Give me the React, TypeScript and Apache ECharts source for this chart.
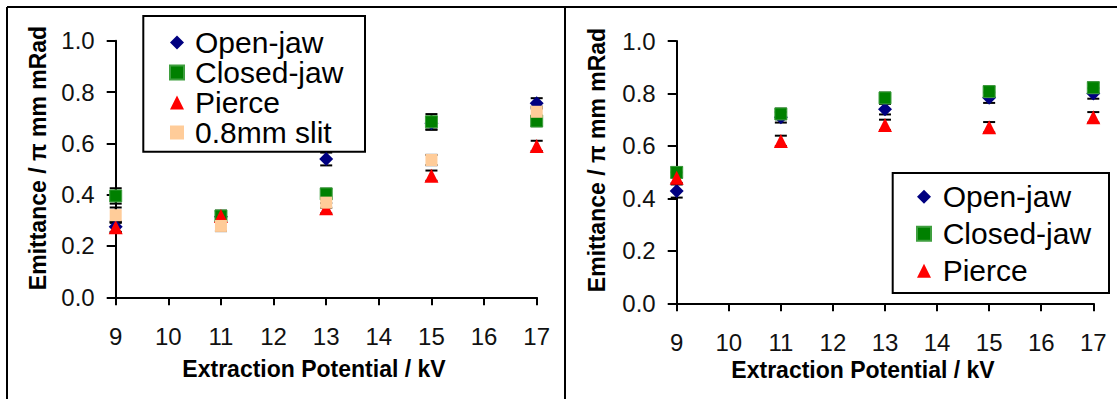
import React, { useEffect, useRef } from "react";
import * as echarts from "echarts";

const kv = [9, 11, 13, 15, 17];
const yTicks = [0, 0.2, 0.4, 0.6, 0.8, 1.0];

const seriesNamesLeft = ["Open-jaw", "Closed-jaw", "Pierce", "0.8mm slit"];
const seriesNamesRight = ["Open-jaw", "Closed-jaw", "Pierce"];

// Left panel
const openL = [0.275, 0.314, 0.539, 0.678, 0.756];
const closedL = [0.395, 0.317, 0.403, 0.684, 0.687];
const pierceL = [0.273, 0.317, 0.347, 0.474, 0.59];
const slitL = [0.32, 0.278, 0.369, 0.535, 0.723];
const errOpenL = [0.02, 0.02, 0.025, 0.025, 0.02];
const errClosedL = [0.03, 0.02, 0.02, 0.03, 0.02];
const errPierceL = [0.02, 0.02, 0.02, 0.02, 0.02];
const errSlitL = [0.03, 0.02, 0.02, 0.02, 0.02];

// Right panel
const openR = [0.428, 0.709, 0.74, 0.784, 0.8];
const closedR = [0.499, 0.722, 0.783, 0.807, 0.822];
const pierceR = [0.479, 0.619, 0.68, 0.671, 0.709];
const errOpenR = [0.025, 0.02, 0.02, 0.02, 0.02];
const errClosedR = [0.02, 0.02, 0.02, 0.02, 0.02];
const errPierceR = [0.02, 0.02, 0.02, 0.02, 0.02];

const FONT = '"Liberation Sans", Arial, sans-serif';

const styles: Record<string, any> = {
  "Open-jaw": { symbol: "diamond", symbolSize: 14, color: "#000080" },
  "Closed-jaw": { symbol: "rect", symbolSize: 12, color: "#008000", border: "#3f9f3f" },
  Pierce: { symbol: "triangle", symbolSize: 14, color: "#ff0000" },
  "0.8mm slit": { symbol: "rect", symbolSize: 12, color: "#ffcc99" },
};

function scatter(name: string, vals: number[], idx: number) {
  const s = styles[name];
  return {
    type: "scatter",
    name,
    xAxisIndex: idx,
    yAxisIndex: idx,
    symbol: s.symbol,
    symbolSize: s.symbolSize,
    itemStyle: {
      color: s.color,
      borderColor: s.border || s.color,
      borderWidth: s.border ? 1 : 0,
      opacity: 1,
    },
    z: 3,
    data: kv.map((x, i) => [x, vals[i]]),
  };
}

function errBars(vals: number[], errs: number[], idx: number) {
  return {
    type: "custom",
    xAxisIndex: idx,
    yAxisIndex: idx,
    z: 2,
    silent: true,
    encode: { x: 0, y: 1 },
    data: kv.map((x, i) => [x, vals[i], errs[i]]),
    renderItem: (params: any, api: any) => {
      const x = api.value(0);
      const y = api.value(1);
      const e = api.value(2);
      const top = api.coord([x, y + e]);
      const bot = api.coord([x, y - e]);
      const h = 6;
      const st = { stroke: "#000", lineWidth: 2 };
      return {
        type: "group",
        children: [
          { type: "line", shape: { x1: top[0], y1: top[1], x2: bot[0], y2: bot[1] }, style: st },
          { type: "line", shape: { x1: top[0] - h, y1: top[1], x2: top[0] + h, y2: top[1] }, style: st },
          { type: "line", shape: { x1: bot[0] - h, y1: bot[1], x2: bot[0] + h, y2: bot[1] }, style: st },
        ],
      };
    },
  };
}

function xAxis(idx: number) {
  return {
    type: "value",
    gridIndex: idx,
    min: 9,
    max: 17,
    interval: 1,
    axisLine: { show: true, onZero: false, lineStyle: { color: "#000", width: 2 } },
    axisTick: { show: true, inside: false, length: 8, lineStyle: { color: "#000", width: 2 } },
    splitLine: { show: false },
    axisLabel: { fontSize: 24, fontFamily: FONT, color: "#111", margin: 27 },
  };
}

function yAxis(idx: number) {
  return {
    type: "value",
    gridIndex: idx,
    min: yTicks[0],
    max: yTicks[yTicks.length - 1],
    interval: 0.2,
    axisLine: { show: true, onZero: false, lineStyle: { color: "#000", width: 2 } },
    axisTick: { show: true, inside: false, length: 9, lineStyle: { color: "#000", width: 2 } },
    splitLine: { show: false },
    axisLabel: {
      fontSize: 24,
      fontFamily: FONT,
      color: "#111",
      margin: 21,
      formatter: (v: number) => v.toFixed(1),
    },
  };
}

function titleText(text: string, x: number, y: number, rot = 0) {
  return {
    type: "text",
    x,
    y,
    rotation: rot,
    z: 10,
    style: {
      text,
      font: `bold 23px ${FONT}`,
      fill: "#000",
      align: "center",
      verticalAlign: "middle",
      textAlign: "center",
      textVerticalAlign: "middle",
    },
  };
}

export default function App() {
  const ref = useRef<HTMLDivElement>(null);
  useEffect(() => {
    if (!ref.current) return;
    const chart = echarts.init(ref.current, undefined, { renderer: "svg" });
    const option: any = {
      animation: false,
      backgroundColor: "#fff",
      grid: [
        { left: 115.7, width: 421, top: 40.7, height: 256.6 },
        { left: 676.7, width: 416.6, top: 41, height: 262.3 },
      ],
      xAxis: [xAxis(0), xAxis(1)],
      yAxis: [yAxis(0), yAxis(1)],
      legend: [
        {
          data: seriesNamesLeft,
          orient: "vertical",
          left: 169,
          top: 27.5,
          padding: 0,
          itemGap: 0,
          itemWidth: 14,
          itemHeight: 14,
          selectedMode: false,
          z: 6,
          textStyle: { fontSize: 30, fontFamily: FONT, color: "#000", lineHeight: 28.5, padding: [0, 0, 0, 6] },
        },
        {
          data: seriesNamesRight,
          orient: "vertical",
          left: 916,
          top: 178.2,
          padding: 0,
          itemGap: 0,
          itemWidth: 14,
          itemHeight: 14,
          selectedMode: false,
          z: 6,
          textStyle: { fontSize: 30, fontFamily: FONT, color: "#000", lineHeight: 37, padding: [0, 0, 0, 6.7] },
        },
      ],
      graphic: [
        { type: "line", shape: { x1: 7, y1: 7, x2: 1117, y2: 7 }, style: { stroke: "#000", lineWidth: 2 } },
        { type: "line", shape: { x1: 7, y1: 7, x2: 7, y2: 399 }, style: { stroke: "#000", lineWidth: 2 } },
        { type: "line", shape: { x1: 565, y1: 7, x2: 565, y2: 399 }, style: { stroke: "#000", lineWidth: 2 } },
        { type: "rect", z: 1, shape: { x: 143.3, y: 16, width: 221.7, height: 135.7 }, style: { fill: "#fff", stroke: "#000", lineWidth: 2 } },
        { type: "rect", z: 1, shape: { x: 892.7, y: 173, width: 216.3, height: 120 }, style: { fill: "#fff", stroke: "#000", lineWidth: 2 } },
        titleText("Extraction Potential / kV", 314, 369),
        titleText("Extraction Potential / kV", 863, 370),
        titleText("Emittance / π mm mRad", 38, 158, Math.PI / 2),
        titleText("Emittance / π mm mRad", 597, 160, Math.PI / 2),
      ],
      series: [
        errBars(openL, errOpenL, 0),
        errBars(closedL, errClosedL, 0),
        errBars(pierceL, errPierceL, 0),
        errBars(slitL, errSlitL, 0),
        errBars(openR, errOpenR, 1),
        errBars(closedR, errClosedR, 1),
        errBars(pierceR, errPierceR, 1),
        scatter("Open-jaw", openL, 0),
        scatter("Closed-jaw", closedL, 0),
        scatter("Pierce", pierceL, 0),
        scatter("0.8mm slit", slitL, 0),
        scatter("Open-jaw", openR, 1),
        scatter("Closed-jaw", closedR, 1),
        scatter("Pierce", pierceR, 1),
      ],
    };
    chart.setOption(option);
    return () => chart.dispose();
  }, []);
  return (
    <div
      ref={ref}
      style={{ position: "fixed", left: 0, top: 0, width: 1117, height: 399, background: "#fff" }}
    />
  );
}
